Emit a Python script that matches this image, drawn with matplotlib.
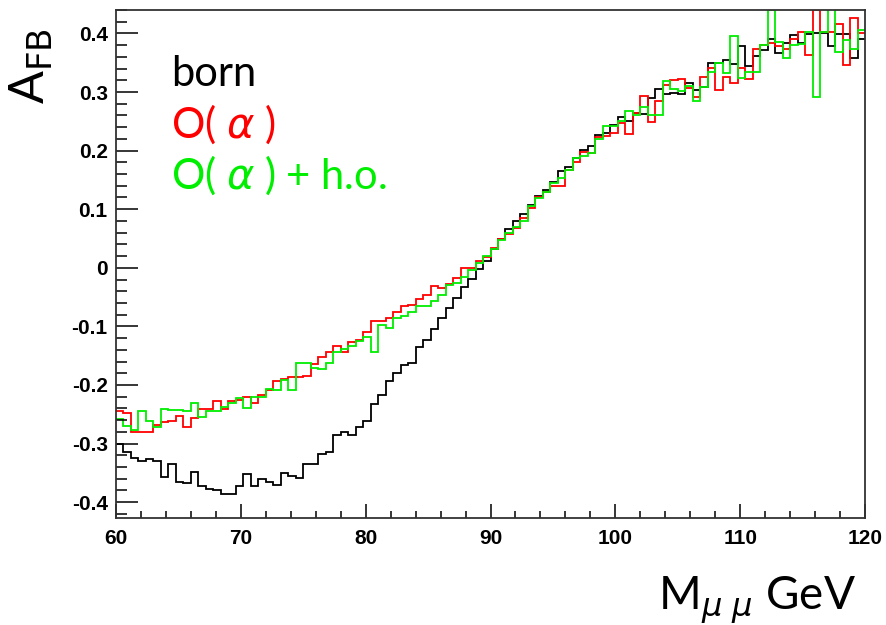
import numpy as np
import matplotlib
matplotlib.use("Agg")
import matplotlib.pyplot as plt
from matplotlib.ticker import MultipleLocator, FuncFormatter

# forward-backward asymmetry vs dimuon mass, 100 bins from 60 to 120 GeV
mass_lo, mass_hi, nbins = 60.0, 120.0, 100

afb_born = [
    -0.300, -0.315, -0.325, -0.329, -0.326, -0.330, -0.357, -0.334, -0.365, -0.367,
    -0.349, -0.372, -0.377, -0.380, -0.386, -0.386, -0.373, -0.352, -0.372, -0.360,
    -0.366, -0.370, -0.350, -0.355, -0.359, -0.335, -0.335, -0.317, -0.315, -0.285,
    -0.281, -0.285, -0.271, -0.261, -0.233, -0.217, -0.194, -0.180, -0.166, -0.162,
    -0.136, -0.123, -0.104, -0.086, -0.069, -0.052, -0.033, -0.019, -0.002, 0.012,
    0.032, 0.049, 0.066, 0.080, 0.092, 0.108, 0.123, 0.133, 0.146, 0.166,
    0.172, 0.187, 0.201, 0.208, 0.227, 0.230, 0.244, 0.257, 0.250, 0.264,
    0.262, 0.290, 0.305, 0.296, 0.299, 0.297, 0.316, 0.304, 0.308, 0.350,
    0.350, 0.355, 0.348, 0.379, 0.345, 0.361, 0.371, 0.390, 0.367, 0.384,
    0.398, 0.383, 0.399, 0.400, 0.400, 0.379, 0.399, 0.399, 0.358, 0.390,
]

afb_oalpha = [
    -0.244, -0.248, -0.281, -0.281, -0.281, -0.269, -0.264, -0.262, -0.253, -0.272,
    -0.257, -0.241, -0.241, -0.228, -0.241, -0.227, -0.225, -0.221, -0.231, -0.217,
    -0.208, -0.194, -0.190, -0.187, -0.187, -0.184, -0.164, -0.152, -0.143, -0.134,
    -0.143, -0.127, -0.123, -0.110, -0.090, -0.090, -0.086, -0.075, -0.065, -0.063,
    -0.053, -0.046, -0.031, -0.035, -0.028, -0.017, -0.001, -0.001, 0.011, 0.019,
    0.034, 0.049, 0.058, 0.068, 0.085, 0.102, 0.121, 0.130, 0.140, 0.140,
    0.167, 0.181, 0.198, 0.196, 0.224, 0.225, 0.230, 0.247, 0.228, 0.264,
    0.294, 0.248, 0.285, 0.312, 0.320, 0.322, 0.307, 0.291, 0.325, 0.341,
    0.303, 0.325, 0.316, 0.341, 0.322, 0.373, 0.381, 0.383, 0.379, 0.373,
    0.390, 0.403, 0.363, 0.440, 0.402, 0.403, 0.416, 0.346, 0.426, 0.400,
]

afb_oalpha_ho = [
    -0.258, -0.270, -0.276, -0.245, -0.262, -0.272, -0.241, -0.242, -0.242, -0.244,
    -0.231, -0.255, -0.244, -0.244, -0.237, -0.231, -0.222, -0.239, -0.221, -0.221,
    -0.207, -0.209, -0.191, -0.209, -0.162, -0.162, -0.171, -0.173, -0.162, -0.143,
    -0.139, -0.134, -0.125, -0.118, -0.143, -0.097, -0.103, -0.086, -0.082, -0.075,
    -0.065, -0.065, -0.056, -0.046, -0.029, -0.026, -0.015, -0.003, 0.009, 0.020,
    0.032, 0.048, 0.059, 0.070, 0.080, 0.105, 0.119, 0.130, 0.145, 0.153,
    0.167, 0.187, 0.190, 0.196, 0.220, 0.242, 0.242, 0.251, 0.268, 0.261,
    0.275, 0.261, 0.261, 0.318, 0.305, 0.301, 0.311, 0.284, 0.308, 0.335,
    0.349, 0.333, 0.395, 0.324, 0.335, 0.335, 0.381, 0.440, 0.386, 0.358,
    0.381, 0.382, 0.402, 0.291, 0.402, 0.460, 0.369, 0.388, 0.373, 0.406,
]

labels = ["born", "O( $\\alpha$ )", "O( $\\alpha$ ) + h.o."]
colors = ["black", "#ff0000", "#00ee00"]

edges = np.linspace(mass_lo, mass_hi, nbins + 1)

plt.rcParams["mathtext.fontset"] = "dejavusans"

fig = plt.figure(figsize=(8.86, 6.25), dpi=100)
ax = fig.add_axes([116 / 886, 1 - 518 / 625, 749 / 886, 508 / 625])

for vals, col in zip([afb_born, afb_oalpha, afb_oalpha_ho], colors):
    ax.stairs(vals, edges, baseline=None, color=col, linewidth=1.3)

ax.set_xlim(mass_lo, mass_hi)
ax.set_ylim(-0.427, 0.440)

ax.xaxis.set_major_locator(MultipleLocator(10))
ax.xaxis.set_minor_locator(MultipleLocator(2))
ax.yaxis.set_major_locator(MultipleLocator(0.1))
ax.yaxis.set_minor_locator(MultipleLocator(0.02))
ax.yaxis.set_major_formatter(FuncFormatter(lambda v, p: "%g" % round(v, 2)))

ax.tick_params(which="both", direction="in", top=False, right=False, color="black")
ax.tick_params(axis="y", which="major", length=16, width=1.1, pad=6)
ax.tick_params(axis="y", which="minor", length=8, width=1.1)
ax.tick_params(axis="x", which="major", length=10, width=1.1, pad=8)
ax.tick_params(axis="x", which="minor", length=5, width=1.1)
for lab in ax.get_xticklabels() + ax.get_yticklabels():
    lab.set_family("Liberation Sans")
    lab.set_weight("bold")
    lab.set_fontsize(15)
for sp in ax.spines.values():
    sp.set_linewidth(1.3)
    sp.set_color("#333333")

# legend as coloured text lines
for i, (txt, col) in enumerate(zip(labels, colors)):
    ax.text(171 / 886, 1 - (86 + 51.5 * i) / 625, txt, color=col, fontsize=30,
            family="Lato", transform=fig.transFigure, va="baseline", ha="left")

fig.text(31 / 886, 1 - 28 / 625, "A$_{\\rm FB}$", rotation=90, fontsize=35,
         family="Lato", ha="center", va="top")
fig.text(856 / 886, 1 - 610 / 625, "M$_{\\mu\\ \\mu}$ GeV", fontsize=33,
         family="Lato", ha="right", va="baseline")

fig.savefig("out.png", dpi=100)
